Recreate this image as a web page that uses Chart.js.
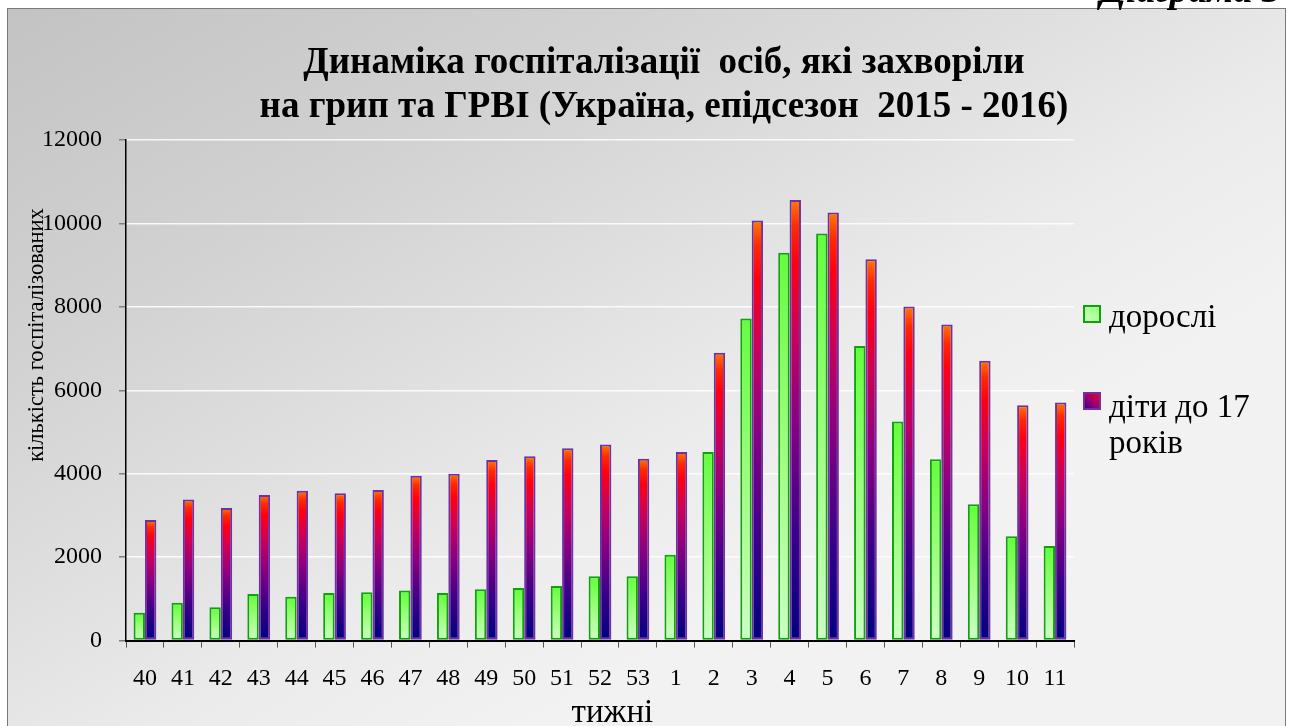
<!DOCTYPE html>
<html lang="uk">
<head>
<meta charset="utf-8">
<title>Динаміка госпіталізації</title>
<script src="https://cdn.jsdelivr.net/npm/chart.js@4"></script>
<style>
  html, body { margin: 0; padding: 0; background: #fff; overflow: hidden; }
  #frame {
    position: absolute; left: 7px; top: 8px; width: 1277px; height: 730px;
    border: 1.5px solid #7a7a7a;
    background: linear-gradient(to bottom right, #c3c3c3 0%, #d2d2d2 25%, #dedede 40%, #ebebeb 55%, #f2f2f2 70%, #f2f2f2 100%);
  }
  #chart { position: absolute; left: 0; top: 0; }
</style>
</head>
<body>
<div id="frame"></div>
<canvas id="chart" width="1293" height="726"></canvas>
<script>
// weeks of the 2015-2016 season
const weeks = ['40', '41', '42', '43', '44', '45', '46', '47', '48', '49', '50', '51', '52', '53',
               '1', '2', '3', '4', '5', '6', '7', '8', '9', '10', '11'];
const adults = [670, 910, 800, 1120, 1050, 1140, 1160, 1200, 1140, 1230, 1260, 1310, 1540, 1540,
                2060, 4520, 7720, 9300, 9760, 7060, 5250, 4350, 3270, 2500, 2270];
const children = [2890, 3380, 3180, 3490, 3590, 3530, 3610, 3950, 4000, 4330, 4420, 4610, 4700, 4360,
                  4520, 6900, 10070, 10560, 10260, 9140, 8010, 7580, 6710, 5640, 5710];
const seriesNames = ['дорослі', 'діти до 17 років'];
const yMax = 12000;
const yStep = 2000;
const titleLines = ['Динаміка госпіталізації  осіб, які захворіли',
                    'на грип та ГРВІ (Україна, епідсезон  2015 - 2016)'];
const yTitle = 'кількість госпіталізованих';
const xTitle = 'тижні';
const cornerNote = 'Діаграма 3';

const SERIF = '"Liberation Serif", "Times New Roman", serif';
const greenStops = [[0, '#ccffc4'], [0.5, '#9cff7c'], [1, '#62ff3a']];
const redStops = [[0, '#000080'], [0.25, '#3a0088'], [0.5, '#8a0080'], [0.7, '#cc0058'],
                  [0.86, '#ff0010'], [0.94, '#ff2a00'], [1, '#ff7a00']];

function barFill(stops) {
    return (ctx) => {
        const chart = ctx.chart;
        const y = chart.scales.y;
        if (!y || !chart.chartArea || ctx.type !== 'data') return stops[stops.length - 1][1];
        const base = y.getPixelForValue(0);
        const top = y.getPixelForValue(ctx.raw);
        const g = chart.ctx.createLinearGradient(0, base, 0, top);
        stops.forEach(([o, c]) => g.addColorStop(o, c));
        return g;
    };
}

// title, y title, legend and the cut-off note are painted on top
const overlay = {
    id: 'overlay',
    afterDraw(chart) {
        const c = chart.ctx;
        c.save();
        c.fillStyle = '#000';
        c.textBaseline = 'alphabetic';

        c.font = 'bold italic 38px ' + SERIF;
        c.textAlign = 'left';
        c.fillText(cornerNote, 1100, 2);

        c.font = 'bold 37px ' + SERIF;
        c.textAlign = 'center';
        c.fillText(titleLines[0], 664, 73);
        c.fillText(titleLines[1], 664, 117);

        c.save();
        c.translate(37, 335);
        c.rotate(-Math.PI / 2);
        c.font = '22.5px ' + SERIF;
        c.textBaseline = 'middle';
        c.fillText(yTitle, 0, 0);
        c.restore();

        // legend
        const gBox = c.createLinearGradient(1083, 323, 1101, 305);
        gBox.addColorStop(0, '#d4ffcc');
        gBox.addColorStop(1, '#8cff6a');
        c.fillStyle = gBox;
        c.fillRect(1084, 306, 16, 16);
        c.strokeStyle = '#10a010';
        c.lineWidth = 2;
        c.strokeRect(1084, 306, 16, 16);

        const rBox = c.createLinearGradient(1083, 410, 1101, 392);
        rBox.addColorStop(0, '#200090');
        rBox.addColorStop(0.5, '#a00070');
        rBox.addColorStop(1, '#ff0010');
        c.fillStyle = rBox;
        c.fillRect(1084, 393, 16, 16);
        c.strokeStyle = '#7030a0';
        c.strokeRect(1084, 393, 16, 16);

        c.fillStyle = '#000';
        c.font = '33px ' + SERIF;
        c.textAlign = 'left';
        c.fillText(seriesNames[0], 1109, 327);
        c.fillText('діти до 17', 1109, 417);
        c.fillText('років', 1109, 453);
        c.restore();
    }
};

new Chart(document.getElementById('chart'), {
    type: 'bar',
    data: {
        labels: weeks,
        datasets: [{
            label: seriesNames[0],
            data: adults,
            backgroundColor: barFill(greenStops),
            borderColor: '#10a010',
            borderWidth: 2,
            borderSkipped: false,
        }, {
            label: seriesNames[1],
            data: children,
            backgroundColor: barFill(redStops),
            borderColor: '#7030a0',
            borderWidth: 2,
            borderSkipped: false,
        }]
    },
    options: {
        responsive: false,
        animation: false,
        categoryPercentage: 0.6,
        barPercentage: 1.0,
        layout: { padding: { left: 0, right: 219, top: 140, bottom: 0 } },
        plugins: {
            legend: { display: false },
            title: { display: false },
            tooltip: { enabled: false }
        },
        scales: {
            x: {
                afterFit: (scale) => { scale.height = 85.4; },
                grid: { drawOnChartArea: false, tickLength: 7, tickColor: '#555', lineWidth: 1 },
                border: { color: '#000', width: 2, z: 1 },
                ticks: { color: '#000', padding: 17, maxRotation: 0, autoSkip: false,
                         font: { family: SERIF, size: 24 } },
                title: { display: true, text: '   ' + xTitle, color: '#000',
                         font: { family: SERIF, size: 33 }, padding: { top: 0, bottom: -7 } }
            },
            y: {
                min: 0,
                max: yMax,
                afterFit: (scale) => { scale.width = 126; },
                grid: {
                    color: 'rgba(255,255,255,0.85)', lineWidth: 1.5,
                    tickColor: '#7f7f7f', tickLength: 7
                },
                border: { color: '#000', width: 1.5, z: 1 },
                ticks: { stepSize: yStep, color: '#000', padding: 17,
                         callback: (v) => String(v),
                         font: { family: SERIF, size: 24 } }
            }
        }
    },
    plugins: [overlay]
});
</script>
</body>
</html>
